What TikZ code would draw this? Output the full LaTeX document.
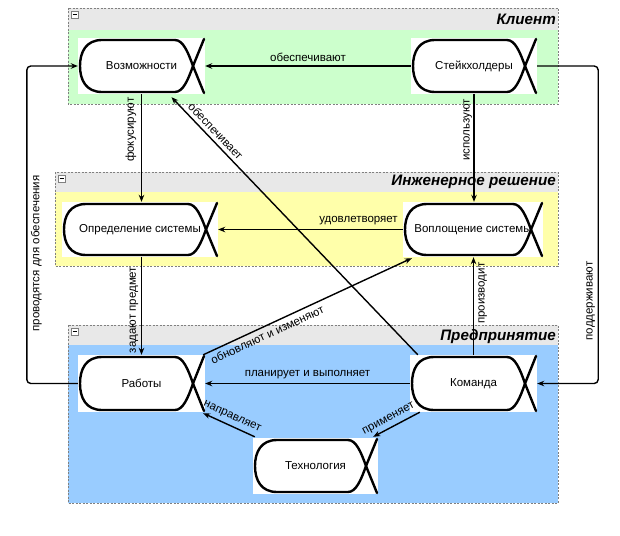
\documentclass[tikz,border=0pt]{standalone}
\usepackage{fontspec}
\setmainfont{Liberation Sans}
\usetikzlibrary{arrows.meta,calc}
\definecolor{hdrgray}{RGB}{232,232,232}
\definecolor{clientgreen}{RGB}{204,255,204}
\definecolor{enggyellow}{RGB}{255,255,170}
\definecolor{entblue}{RGB}{153,204,255}
\definecolor{bordergray}{RGB}{128,128,128}
\tikzset{
  panelborder/.style={draw=bordergray, dash pattern=on 2pt off 1.5pt, line width=0.6pt},
  actorbg/.style={fill=white, inner sep=0pt, font=\fontsize{11.5}{13}\selectfont},
  actorline/.style={line width=2.4pt, line join=round, line cap=round},
  conn/.style={line width=1.4pt, -{Stealth[length=7pt,width=5.5pt]}},
  lbl/.style={font=\fontsize{11.5}{13}\selectfont, inner sep=3.5pt},
  ptitle/.style={font=\fontsize{15.2}{17}\selectfont\bfseries\itshape, anchor=east, inner sep=0pt},
}
\newcommand\drawpanel[6]{%
  \fill[hdrgray] (#1,#2) rectangle (#3,#5);
  \fill[#6] (#1,#5) rectangle (#3,#4);
  \draw[panelborder] (#1,#2) rectangle (#3,#4);
  \draw[draw=bordergray, fill=white, line width=0.5pt] ({#1+3},{#2+3}) rectangle ({#1+10},{#2+10});
  \draw[line width=0.8pt] ({#1+4.5},{#2+6.5}) -- ({#1+8.5},{#2+6.5});
}
\newcommand\actoroutline[3]{%
  \begin{scope}[shift={(#1.center)}]
    \pgfmathsetmacro\hw{#2/2}\pgfmathsetmacro\hh{#3/2}
    \draw[actorline] ({\hw-30},{-\hh+2}) -- ({-\hw+24},{-\hh+2})
      .. controls ({-\hw+8},{-\hh+2}) and ({-\hw+2},{-\hh+14}) .. ({-\hw+2},0)
      .. controls ({-\hw+2},{\hh-14}) and ({-\hw+8},{\hh-2}) .. ({-\hw+24},{\hh-2})
      -- ({\hw-30},{\hh-2})
      .. controls ({\hw-22},{\hh-2}) and ({\hw-17},{\hh-14}) .. ({\hw-12},0)
      -- ({\hw-1},{-\hh+1});
    \draw[actorline] ({\hw-30},{-\hh+2})
      .. controls ({\hw-22},{-\hh+2}) and ({\hw-17},{-\hh+14}) .. ({\hw-12},0)
      -- ({\hw-1},{\hh-1});
  \end{scope}}
\begin{document}
\begin{tikzpicture}[x=1pt,y=-1pt]
\useasboundingbox (0,0) rectangle (620,535);
\fill[white] (0,0) rectangle (620,535);
% panels
\drawpanel{68}{8}{558}{104}{30}{clientgreen}
\drawpanel{55}{172}{558}{266}{192}{enggyellow}
\drawpanel{68}{325}{558}{503}{345}{entblue}
% titles
\node[ptitle] (tclient) at (556,19) {Клиент};
\node[ptitle] (teng) at (556,182) {Инженерное решение};
\node[ptitle] (tent) at (556,337) {Предпринятие};
% nodes
\node[actorbg, minimum width=127pt, minimum height=56pt] (poss) at (141.5,66) {Возможности};
\node[actorbg, minimum width=126pt, minimum height=56pt] (stake) at (474,66) {Стейкхолдеры};
\node[actorbg, minimum width=156pt, minimum height=55pt] (def) at (140,229.5) {Определение системы};
\node[actorbg, minimum width=140pt, minimum height=55pt] (impl) at (473,229.5) {Воплощение системы};
\node[actorbg, minimum width=127pt, minimum height=57pt] (works) at (141.5,383.5) {Работы};
\node[actorbg, minimum width=127pt, minimum height=57pt] (team) at (473.5,383.5) {Команда};
\node[actorbg, minimum width=125pt, minimum height=56pt] (tech) at (315.5,466) {Технология};
\actoroutline{poss}{127}{56}
\actoroutline{stake}{126}{56}
\actoroutline{def}{156}{55}
\actoroutline{impl}{140}{55}
\actoroutline{works}{127}{57}
\actoroutline{team}{127}{57}
\actoroutline{tech}{125}{56}
% connectors
\draw[conn] (stake.west) -- node[lbl, above, pos=0.5] {обеспечивают} (poss.east);
\draw[conn] (poss.south) -- node[lbl, pos=0.33, rotate=90, anchor=south, inner sep=4.5pt] {фокусируют} (poss.south |- def.north);
\draw[conn] (stake.south) -- node[lbl, pos=0.33, rotate=90, anchor=south, inner sep=1.2pt] {используют} (stake.south |- impl.north);
\draw[conn] (impl.west) -- node[lbl, above, pos=0.24] {удовлетворяет} (def.east);
\draw[conn] (works.north |- def.south) -- node[lbl, pos=0.54, rotate=90, anchor=south, inner sep=2.5pt] {задают предмет} (works.north);
\draw[conn] (team.north) -- node[lbl, pos=0.63, rotate=90, anchor=north, inner sep=4.2pt] {производит} (team.north |- impl.south);
\draw[conn] ($(team.north west)+(8,0)$) -- node[lbl, sloped, above, pos=0.845] {обеспечивает} ($(poss.south)+(30,3)$);
\draw[conn] ($(works.north east)+(-2,0)$) -- node[lbl, sloped, below, pos=0.29] {обновляют и изменяют} ($(impl.south west)+(9,1)$);
\draw[conn] (team.west) -- node[lbl, above, pos=0.5] {планирует и выполняет} (works.east);
\draw[conn] ($(team.south west)+(10,0)$) -- node[lbl, sloped, above, pos=0.58] {применяет} ($(tech.north east)+(-5,-1)$);
\draw[conn] ($(tech.north west)+(2,-1)$) -- node[lbl, sloped, above, pos=0.51] {направляет} ($(works.south east)+(-2,1)$);
\draw[conn, rounded corners=4pt] (works.west) -- ++(-51,0) coordinate (lc) -- node[lbl, pos=0.41, rotate=90, anchor=north, inner sep=3.5pt] {проводятся для обеспечения} (lc |- poss.west) -- (poss.west);
\draw[conn, rounded corners=4pt] (stake.east) -- ++(61,0) coordinate (rc) -- node[lbl, pos=0.74, rotate=90, anchor=south, inner sep=2.5pt] {поддерживают} (rc |- team.east) -- (team.east);
\end{tikzpicture}
\end{document}
